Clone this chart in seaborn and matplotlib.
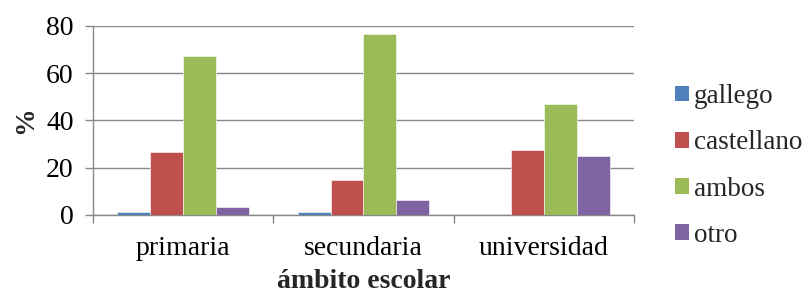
import matplotlib
matplotlib.use("Agg")
import matplotlib.pyplot as plt
import seaborn as sns
import pandas as pd
from matplotlib.patches import Patch
from matplotlib.ticker import FixedLocator

categories = ["primaria", "secundaria", "universidad"]
series = ["gallego", "castellano", "ambos", "otro"]
gallego = [1.4, 1.4, 0.0]
castellano = [26.7, 14.8, 27.5]
ambos = [67.4, 76.7, 47.0]
otro = [3.4, 6.3, 25.0]
colors = ["#4F81BD", "#C0504D", "#9BBB59", "#8064A2"]
yticks = [0, 20, 40, 60, 80]

rows = []
for name, vals in zip(series, [gallego, castellano, ambos, otro]):
    for c, v in zip(categories, vals):
        rows.append({"cat": c, "serie": name, "val": v})
df = pd.DataFrame(rows)

sns.set_theme(style="white")
plt.rcParams["font.family"] = ["Liberation Serif", "DejaVu Serif"]

FS = 20
fig = plt.figure(figsize=(8.03, 2.95), dpi=100)
ax = fig.add_axes([93 / 803, 1 - 215 / 295, (634 - 93) / 803, (215 - 26) / 295])

sns.barplot(data=df, x="cat", y="val", hue="serie", order=categories,
            hue_order=series, palette=colors, width=0.73, saturation=1,
            edgecolor="white", linewidth=0.4, ax=ax, legend=False, zorder=3)

gray = "#888888"
ax.set_ylim(0, 80)
ax.set_xlim(-0.5, 2.5)
ax.set_yticks(yticks)
ax.yaxis.grid(True, color=gray, linewidth=1.0, zorder=0)
ax.set_axisbelow(True)
for s in ["top", "right"]:
    ax.spines[s].set_visible(False)
for s in ["left", "bottom"]:
    ax.spines[s].set_color(gray)
    ax.spines[s].set_linewidth(1.0)

ax.tick_params(axis="y", which="major", length=5.8, width=1.0, color=gray,
               labelsize=FS, pad=8, left=True, direction="out", labelcolor="black")
ax.tick_params(axis="x", which="major", length=0, labelsize=FS, pad=15, labelcolor="black")
ax.xaxis.set_minor_locator(FixedLocator([-0.5, 0.5, 1.5, 2.5]))
ax.tick_params(axis="x", which="minor", length=5.8, width=1.0, color=gray,
               bottom=True, direction="out")

ax.set_xlabel("ámbito escolar", fontsize=FS, fontweight="bold", labelpad=6)
ax.set_ylabel("%", fontsize=FS, fontweight="bold", labelpad=6)

handles = [Patch(facecolor=c, edgecolor="none") for c in colors]
fig.legend(handles, series, loc="center left", bbox_to_anchor=(675 / 803, 1 - 166 / 295),
           frameon=False, fontsize=19.5, handlelength=0.5, handleheight=0.5,
           handletextpad=0.2, labelspacing=0.78, borderpad=0, borderaxespad=0)

fig.savefig("out.png", dpi=100)
